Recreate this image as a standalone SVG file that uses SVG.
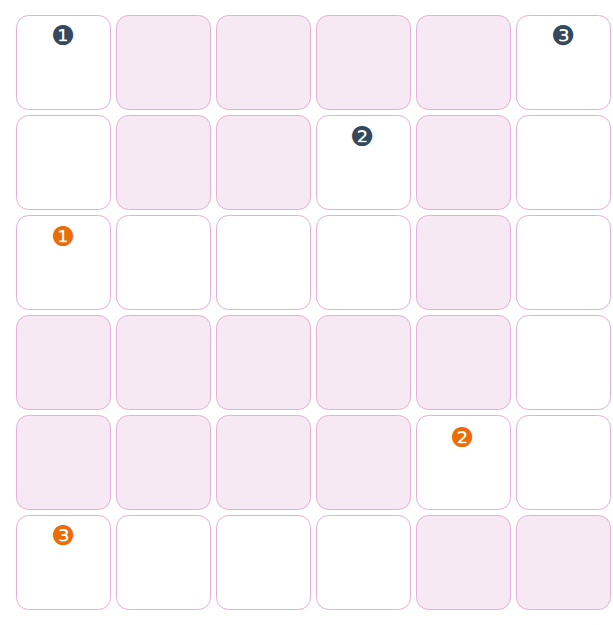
<svg xmlns="http://www.w3.org/2000/svg" width="613" height="625" viewBox="0 0 613 625">
<style>
.c{stroke:#e3b0d8;stroke-width:1}
.w{fill:#ffffff}
.p{fill:#f6e9f3}
.n{font-family:"DejaVu Sans",sans-serif;font-size:27px;text-anchor:middle;dominant-baseline:central}
.d{fill:#34495e}
.o{fill:#ec6c0a}
</style>
<rect width="613" height="625" fill="#ffffff"/>
<g id="r0c0"><rect class="c w" x="16.5" y="15.5" width="94" height="94" rx="12"/><text class="n d" x="63" y="35">❶</text></g>
<g id="r0c1"><rect class="c p" x="116.5" y="15.5" width="94" height="94" rx="12"/></g>
<g id="r0c2"><rect class="c p" x="216.5" y="15.5" width="94" height="94" rx="12"/></g>
<g id="r0c3"><rect class="c p" x="316.5" y="15.5" width="94" height="94" rx="12"/></g>
<g id="r0c4"><rect class="c p" x="416.5" y="15.5" width="94" height="94" rx="12"/></g>
<g id="r0c5"><rect class="c w" x="516.5" y="15.5" width="94" height="94" rx="12"/><text class="n d" x="563" y="35">❸</text></g>

<g id="r1c0"><rect class="c w" x="16.5" y="115.5" width="94" height="94" rx="12"/></g>
<g id="r1c1"><rect class="c p" x="116.5" y="115.5" width="94" height="94" rx="12"/></g>
<g id="r1c2"><rect class="c p" x="216.5" y="115.5" width="94" height="94" rx="12"/></g>
<g id="r1c3"><rect class="c w" x="316.5" y="115.5" width="94" height="94" rx="12"/><text class="n d" x="362" y="136">❷</text></g>
<g id="r1c4"><rect class="c p" x="416.5" y="115.5" width="94" height="94" rx="12"/></g>
<g id="r1c5"><rect class="c w" x="516.5" y="115.5" width="94" height="94" rx="12"/></g>

<g id="r2c0"><rect class="c w" x="16.5" y="215.5" width="94" height="94" rx="12"/><text class="n o" x="63" y="236">❶</text></g>
<g id="r2c1"><rect class="c w" x="116.5" y="215.5" width="94" height="94" rx="12"/></g>
<g id="r2c2"><rect class="c w" x="216.5" y="215.5" width="94" height="94" rx="12"/></g>
<g id="r2c3"><rect class="c w" x="316.5" y="215.5" width="94" height="94" rx="12"/></g>
<g id="r2c4"><rect class="c p" x="416.5" y="215.5" width="94" height="94" rx="12"/></g>
<g id="r2c5"><rect class="c w" x="516.5" y="215.5" width="94" height="94" rx="12"/></g>

<g id="r3c0"><rect class="c p" x="16.5" y="315.5" width="94" height="94" rx="12"/></g>
<g id="r3c1"><rect class="c p" x="116.5" y="315.5" width="94" height="94" rx="12"/></g>
<g id="r3c2"><rect class="c p" x="216.5" y="315.5" width="94" height="94" rx="12"/></g>
<g id="r3c3"><rect class="c p" x="316.5" y="315.5" width="94" height="94" rx="12"/></g>
<g id="r3c4"><rect class="c p" x="416.5" y="315.5" width="94" height="94" rx="12"/></g>
<g id="r3c5"><rect class="c w" x="516.5" y="315.5" width="94" height="94" rx="12"/></g>

<g id="r4c0"><rect class="c p" x="16.5" y="415.5" width="94" height="94" rx="12"/></g>
<g id="r4c1"><rect class="c p" x="116.5" y="415.5" width="94" height="94" rx="12"/></g>
<g id="r4c2"><rect class="c p" x="216.5" y="415.5" width="94" height="94" rx="12"/></g>
<g id="r4c3"><rect class="c p" x="316.5" y="415.5" width="94" height="94" rx="12"/></g>
<g id="r4c4"><rect class="c w" x="416.5" y="415.5" width="94" height="94" rx="12"/><text class="n o" x="462" y="437">❷</text></g>
<g id="r4c5"><rect class="c w" x="516.5" y="415.5" width="94" height="94" rx="12"/></g>

<g id="r5c0"><rect class="c w" x="16.5" y="515.5" width="94" height="94" rx="12"/><text class="n o" x="63" y="535">❸</text></g>
<g id="r5c1"><rect class="c w" x="116.5" y="515.5" width="94" height="94" rx="12"/></g>
<g id="r5c2"><rect class="c w" x="216.5" y="515.5" width="94" height="94" rx="12"/></g>
<g id="r5c3"><rect class="c w" x="316.5" y="515.5" width="94" height="94" rx="12"/></g>
<g id="r5c4"><rect class="c p" x="416.5" y="515.5" width="94" height="94" rx="12"/></g>
<g id="r5c5"><rect class="c p" x="516.5" y="515.5" width="94" height="94" rx="12"/></g>
<g id="connectors"></g>
</svg>
